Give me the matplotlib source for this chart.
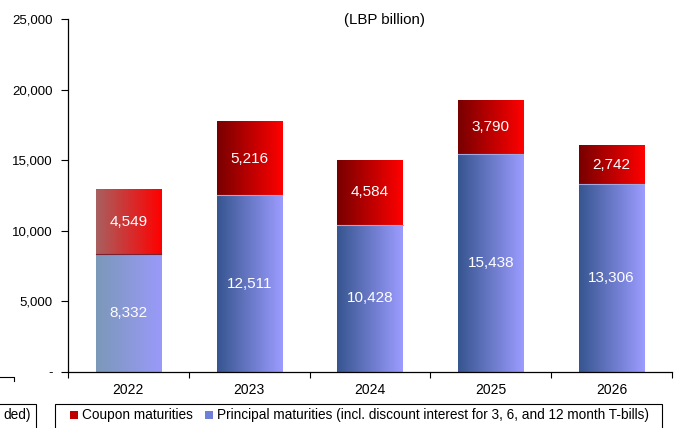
import matplotlib.pyplot as plt
import numpy as np
from matplotlib.colors import LinearSegmentedColormap
from matplotlib.patches import Rectangle
from matplotlib.lines import Line2D
from matplotlib.ticker import FuncFormatter

plt.rcParams['font.family'] = ['Liberation Sans', 'DejaVu Sans']

years = ['2022', '2023', '2024', '2025', '2026']
principal = [8332, 12511, 10428, 15438, 13306]
coupon = [4549, 5216, 4584, 3790, 2742]

W, H = 676, 428
fig = plt.figure(figsize=(W / 100, H / 100), dpi=100)


def fx(x):
    return x / W


def fy(y):
    return 1 - y / H


ax = fig.add_axes([fx(68), fy(372), fx(672) - fx(68), fy(19) - fy(372)])

# horizontal gradients (left -> right); the first year is drawn faded
blue = LinearSegmentedColormap.from_list('blue', ['#36558f', '#9c9cff'])
red = LinearSegmentedColormap.from_list('red', ['#780000', '#ff0000'])
blue_faded = LinearSegmentedColormap.from_list('bluef', ['#7b98b8', '#9a9afa'])
red_faded = LinearSegmentedColormap.from_list('redf', ['#a86060', '#ff0000'])

grad = np.linspace(0, 1, 256).reshape(1, -1)
width = 0.54
x = np.arange(len(years))

b1 = ax.bar(x, principal, width, color='none', edgecolor='none')
b2 = ax.bar(x, coupon, width, bottom=principal, color='none', edgecolor='none')

for i in range(len(years)):
    cm_b = blue_faded if i == 0 else blue
    cm_r = red_faded if i == 0 else red
    for bar, cm in ((b1[i], cm_b), (b2[i], cm_r)):
        x0, y0 = bar.get_x(), bar.get_y()
        w, h = bar.get_width(), bar.get_height()
        ax.imshow(grad, cmap=cm, aspect='auto', extent=(x0, x0 + w, y0, y0 + h),
                  interpolation='bilinear', zorder=2)
    # thin dividing line between the two segments
    ax.plot([b1[i].get_x(), b1[i].get_x() + width], [principal[i]] * 2,
            color='#7a2030' if i == 0 else '#a0a8e0', lw=0.8, zorder=3)
    ax.text(i, principal[i] / 2, f'{principal[i]:,}', ha='center', va='center',
            color='white', fontsize=11, zorder=4)
    ax.text(i, principal[i] + coupon[i] / 2, f'{coupon[i]:,}', ha='center',
            va='center', color='white', fontsize=11, zorder=4)

ax.set_xlim(-0.5, len(years) - 0.5)
ax.set_ylim(0, 25000)
ax.set_yticks(range(0, 25001, 5000))
ax.yaxis.set_major_formatter(FuncFormatter(lambda v, p: '-' if v == 0 else f'{int(v):,}'))

ax.set_xticks(np.arange(-0.5, len(years), 1.0))
ax.set_xticklabels([])
ax.set_xticks(x, minor=True)
ax.set_xticklabels(years, minor=True)
ax.tick_params(axis='x', which='minor', length=0, pad=8, labelsize=10)
ax.tick_params(axis='x', which='major', length=4, direction='out', width=0.8)
ax.tick_params(axis='y', length=5, direction='out', width=0.8, labelsize=9.5, pad=6)

ax.spines['top'].set_visible(False)
ax.spines['right'].set_visible(False)
for s in ('left', 'bottom'):
    ax.spines[s].set_linewidth(0.9)

fig.text(fx(384), fy(20), '(LBP billion)', ha='center', va='center', fontsize=10.8)

# legend box along the bottom edge
fig.add_artist(Rectangle((fx(55), fy(440)), fx(662) - fx(55), fy(404) - fy(440),
                         transform=fig.transFigure, fill=False, lw=0.8, ec='black'))
fig.add_artist(Rectangle((fx(70), fy(419)), fx(8), fy(411) - fy(419),
                         transform=fig.transFigure, color='#c00000', lw=0))
fig.text(fx(82), fy(415), 'Coupon maturities', fontsize=9.8, va='center')
fig.add_artist(Rectangle((fx(205), fy(419)), fx(8), fy(411) - fy(419),
                         transform=fig.transFigure, color='#6f7fd8', lw=0))
fig.text(fx(217), fy(415),
         'Principal maturities (incl. discount interest for 3, 6, and 12 month T-bills)',
         fontsize=9.8, va='center')

# neighbouring box cut off at the left edge
fig.add_artist(Rectangle((fx(-40), fy(440)), fx(76), fy(404) - fy(440),
                         transform=fig.transFigure, fill=False, lw=0.8, ec='black'))
fig.text(fx(31), fy(415), 'ded)', fontsize=9.8, va='center', ha='right')
fig.add_artist(Line2D([0, fx(14), fx(14)], [fy(377), fy(377), fy(381)],
                      transform=fig.transFigure, color='black', lw=0.8))

fig.savefig('out.png', dpi=100)
